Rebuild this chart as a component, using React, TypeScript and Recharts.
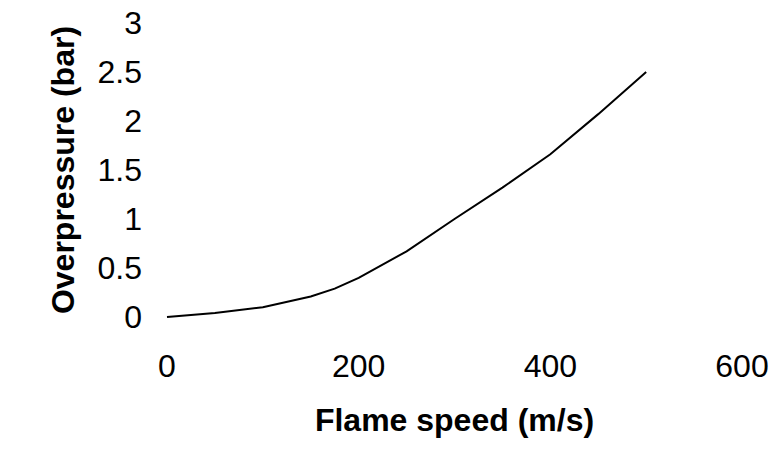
import React from 'react';
import { LineChart, Line, XAxis, YAxis } from 'recharts';

const flameSpeed = [0, 25, 50, 100, 150, 175, 200, 250, 300, 350, 400, 450, 500];
const overpressure = [0, 0.02, 0.04, 0.1, 0.21, 0.29, 0.4, 0.67, 1.0, 1.32, 1.66, 2.07, 2.5];
const xTicks = [0, 200, 400, 600];
const yTicks = [0, 0.5, 1, 1.5, 2, 2.5, 3];

const data = flameSpeed.map((x, i) => ({ x, y: overpressure[i] }));

const font = '"Liberation Sans", Arial, sans-serif';

const App: React.FC = () => {
    return (
        <div style={{ position: 'absolute', left: 0, top: 0, background: '#fff' }}>
            <LineChart width={783} height={468} data={data} margin={{ top: 23, right: 41, left: 0, bottom: 0 }}>
                <XAxis
                    dataKey="x"
                    type="number"
                    domain={[0, 600]}
                    ticks={xTicks}
                    axisLine={false}
                    tickLine={false}
                    tickSize={0}
                    tickMargin={37}
                    height={151}
                    tick={{ fill: '#000', fontSize: 32, fontFamily: font }}
                    label={{
                        content: ({ viewBox }: any) => (
                            <text
                                x={viewBox.x + viewBox.width / 2}
                                y={viewBox.y + 103}
                                textAnchor="middle"
                                dominantBaseline="central"
                                fontFamily={font}
                                fontWeight="bold"
                                fontSize={32}
                                fill="#000"
                            >
                                Flame speed (m/s)
                            </text>
                        ),
                    }}
                />
                <YAxis
                    type="number"
                    domain={[0, 3]}
                    ticks={yTicks}
                    axisLine={false}
                    tickLine={false}
                    tickSize={0}
                    tickMargin={25}
                    width={167}
                    tick={{ fill: '#000', fontSize: 32, fontFamily: font }}
                    label={{
                        content: ({ viewBox }: any) => {
                            const cx = viewBox.x + 63;
                            const cy = viewBox.y + viewBox.height / 2;
                            return (
                                <text
                                    x={cx}
                                    y={cy}
                                    transform={`rotate(-90 ${cx} ${cy})`}
                                    textAnchor="middle"
                                    dominantBaseline="central"
                                    fontFamily={font}
                                    fontWeight="bold"
                                    fontSize={32}
                                    fill="#000"
                                >
                                    Overpressure (bar)
                                </text>
                            );
                        },
                    }}
                />
                <Line
                    dataKey="y"
                    type="linear"
                    stroke="#000"
                    strokeWidth={2}
                    dot={false}
                    isAnimationActive={false}
                />
            </LineChart>
        </div>
    );
};

export default App;
